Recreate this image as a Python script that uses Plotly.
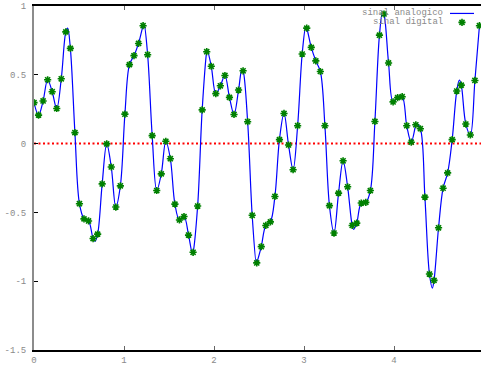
import numpy as np
import plotly.graph_objects as go

# digital samples: 100 samples over [0, 5]
n_samples = 100
sample_v = [
    0.298, 0.207, 0.310, 0.464, 0.377, 0.255, 0.471, 0.812, 0.692, 0.080,
    -0.437, -0.547, -0.562, -0.690, -0.658, -0.293, -0.002, -0.170, -0.461, -0.307,
    0.214, 0.574, 0.639, 0.728, 0.857, 0.646, 0.058, -0.341, -0.220, 0.017,
    -0.110, -0.440, -0.555, -0.530, -0.665, -0.790, -0.454, 0.245, 0.668, 0.562,
    0.363, 0.420, 0.495, 0.336, 0.212, 0.389, 0.529, 0.159, -0.521, -0.867,
    -0.749, -0.595, -0.569, -0.384, 0.029, 0.219, -0.010, -0.190, 0.130, 0.651,
    0.839, 0.699, 0.601, 0.524, 0.130, -0.451, -0.650, -0.360, -0.125, -0.314,
    -0.595, -0.578, -0.432, -0.427, -0.341, 0.161, 0.788, 0.942, 0.586, 0.303,
    0.334, 0.341, 0.130, 0.010, 0.137, 0.108, -0.389, -0.948, -0.994, -0.612,
    -0.324, -0.213, 0.029, 0.382, 0.425, 0.142, 0.063, 0.459, 0.857,
]
sample_t = [5.0 * i / (n_samples - 1) for i in range(len(sample_v))]

# extra readings of the analog curve between the samples (peaks / troughs)
peak_t = [0.374, 0.678, 1.222, 1.760, 1.925, 2.310, 2.470, 3.020, 3.552, 3.874, 4.250, 4.426, 4.726]
peak_v = [0.839, -0.710, 0.870, -0.800, 0.680, 0.540, -0.875, 0.850, -0.624, 0.958, 0.145, -1.050, 0.461]

analog = sorted(zip(sample_t + peak_t, sample_v + peak_v))
analog_t = [a[0] for a in analog]
analog_v = [a[1] for a in analog]

zero_t = [0, 5]
zero_v = [0, 0]

x_ticks = [0, 1, 2, 3, 4]
x_labels = ["0", "1", "2", "3", "4"]
y_ticks = [1, 0.5, 0, -0.5, -1, -1.5]
y_labels = ["1", "0.5", "0", "-0.5", "-1", "-1.5"]

W, H = 481, 366
L, R, T, B = 34, 0, 6, 13
pw, ph = W - L - R, H - T - B
x_max = pw / 90.0

mono = "Liberation Mono"
grey = "#8a8a8a"
green = "#008000"

marker_style = dict(symbol="asterisk-open", size=6, color=green,
                    line=dict(color=green, width=1.6))

fig = go.Figure()
fig.add_trace(go.Scatter(x=zero_t, y=zero_v, mode="lines",
                         line=dict(color="#ff0000", width=2, dash="2px,2.5px"),
                         showlegend=False, hoverinfo="skip"))
fig.add_trace(go.Scatter(x=analog_t, y=analog_v, mode="lines", name="sinal analogico",
                         line=dict(color="#0000ff", width=1.2, shape="spline", smoothing=1),
                         showlegend=False))
fig.add_trace(go.Scatter(x=sample_t, y=sample_v, mode="markers", name="sinal digital",
                         marker=marker_style, showlegend=False))

# legend key (gnuplot style: text then sample)
def px_x(p):
    return (p - L) / pw

def px_y(p):
    return (H - B - p) / ph

fig.add_trace(go.Scatter(x=[px_x(462)], y=[px_y(22.5)], mode="markers",
                         xaxis="x2", yaxis="y2", marker=marker_style,
                         showlegend=False, hoverinfo="skip"))
fig.add_shape(type="line", xref="paper", yref="paper",
              x0=px_x(450), x1=px_x(474), y0=px_y(13.5), y1=px_y(13.5),
              line=dict(color="#0000ff", width=1.2))
fig.add_annotation(text="sinal analogico", xref="paper", yref="paper",
                   x=px_x(445), y=px_y(13.5), xanchor="right", yanchor="middle",
                   showarrow=False, font=dict(family=mono, size=9, color=grey))
fig.add_annotation(text="sinal digital", xref="paper", yref="paper",
                   x=px_x(445), y=px_y(22.5), xanchor="right", yanchor="middle",
                   showarrow=False, font=dict(family=mono, size=9, color=grey))

fig.update_layout(
    width=W, height=H,
    margin=dict(l=L, r=R, t=T, b=B, pad=0),
    paper_bgcolor="white", plot_bgcolor="white",
    showlegend=False,
    xaxis=dict(range=[0, x_max], tickvals=x_ticks, ticktext=x_labels,
               showgrid=False, zeroline=False,
               showline=True, linecolor="black", linewidth=1.5, mirror="ticks",
               ticks="inside", ticklen=4, tickcolor="#666", tickwidth=1,
               tickfont=dict(family=mono, size=9, color=grey)),
    yaxis=dict(range=[-1.5, 1], tickvals=y_ticks, ticktext=y_labels,
               showgrid=False, zeroline=False,
               showline=True, linecolor="#8c8c8c", linewidth=2,
               ticks="inside", ticklen=4, tickcolor="black", tickwidth=1,
               ticklabelstandoff=4,
               tickfont=dict(family=mono, size=9, color=grey)),
    xaxis2=dict(overlaying="x", range=[0, 1], visible=False),
    yaxis2=dict(overlaying="y", range=[0, 1], visible=False),
)

fig.write_html("out.html")
